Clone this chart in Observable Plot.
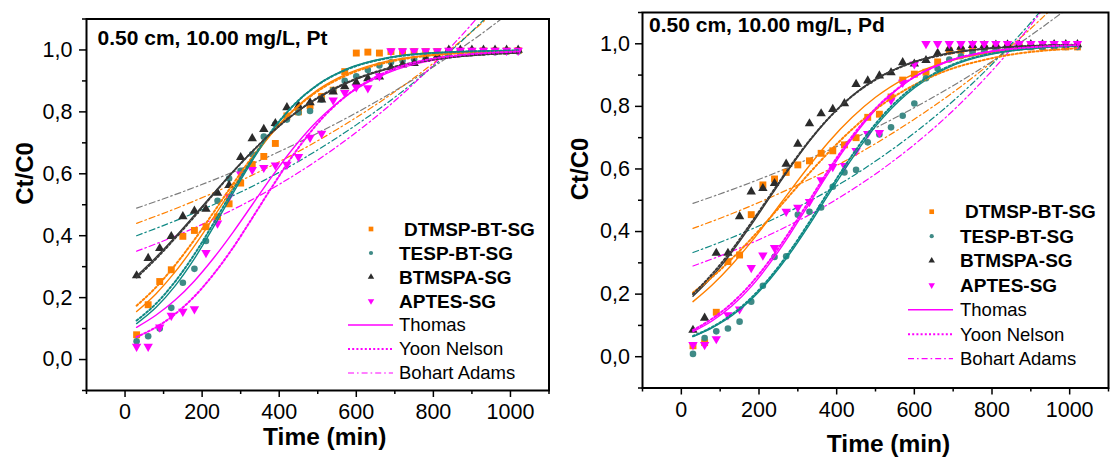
<!DOCTYPE html>
<html><head><meta charset="utf-8">
<script src="https://cdn.jsdelivr.net/npm/d3@7"></script>
<script src="https://cdn.jsdelivr.net/npm/@observablehq/plot@0.6"></script>
<style>
body{margin:0;background:#fff;}
#wrap{position:relative;width:1113px;height:466px;background:#fff;overflow:hidden;}
#wrap svg{position:absolute;top:0;overflow:visible;}
</style></head><body><div id="wrap"></div>
<script>
// ---------------- data ----------------
const times = [30,60,90,120,150,180,210,240,270,300,330,360,390,420,450,480,510,540,570,600,630,660,690,720,750,780,810,840,870,900,930,960,990,1020];
const seriesNames = ["DTMSP-BT-SG","TESP-BT-SG","BTMSPA-SG","APTES-SG"];
const modelNames = ["Thomas","Yoon Nelson","Bohart Adams"];
const xMajorTicks = [0,200,400,600,800,1000];
const xMinorTicks = [-100,100,300,500,700,900,1100];
const yMajorTicks = [0,0.2,0.4,0.6,0.8,1.0];
const yMinorTicks = [-0.1,0.1,0.3,0.5,0.7,0.9,1.1];

// Pt panel, measured points
const ptDTMSP  = [0.080,0.177,0.252,0.290,0.398,0.417,0.429,0.461,0.503,0.570,0.630,0.656,0.698,0.787,0.800,0.820,0.850,0.870,0.930,0.990,0.993,0.990,0.995,0.995,0.995,0.995,0.995,0.996,0.996,0.996,0.997,0.997,0.997,0.998];
const ptTESP   = [0.059,0.075,0.100,0.167,0.248,0.293,0.383,0.513,0.585,0.610,0.663,0.720,0.760,0.775,0.798,0.803,0.840,0.870,0.900,0.915,0.935,0.950,0.960,0.965,0.970,0.975,0.980,0.985,0.990,0.990,0.992,0.993,0.994,0.995];
const ptBTMSPA = [0.271,0.327,0.359,0.398,0.462,0.480,0.486,0.538,0.563,0.653,0.714,0.744,0.763,0.814,0.820,0.830,0.839,0.865,0.882,0.895,0.908,0.913,0.943,0.952,0.957,0.970,0.980,1.000,1.000,1.000,1.000,1.000,1.000,1.000];
const ptAPTES  = [0.042,0.042,0.104,0.142,0.155,0.163,0.345,0.440,0.526,0.599,0.613,0.620,0.628,0.630,0.655,0.717,0.730,0.838,0.862,0.880,0.877,0.916,0.997,0.997,0.997,0.997,0.997,0.998,0.998,0.998,0.998,0.998,0.998,0.998];
// Pd panel, measured points
const pdDTMSP  = [0.035,0.045,0.142,0.304,0.325,0.454,0.549,0.568,0.589,0.613,0.626,0.650,0.658,0.677,0.700,0.765,0.775,0.830,0.884,0.903,0.909,0.942,0.977,0.979,0.983,0.985,0.987,0.988,0.990,0.990,0.990,0.990,0.990,0.990];
const pdTESP   = [0.009,0.060,0.081,0.090,0.112,0.176,0.227,0.319,0.321,0.454,0.463,0.477,0.543,0.589,0.597,0.685,0.710,0.733,0.770,0.809,0.890,0.920,0.950,0.960,0.970,0.975,0.980,0.985,0.990,0.990,0.990,0.990,0.990,0.990];
const pdBTMSPA = [0.085,0.124,0.331,0.331,0.448,0.527,0.538,0.554,0.616,0.680,0.745,0.777,0.791,0.809,0.871,0.882,0.898,0.908,0.940,0.936,0.947,0.970,0.985,0.990,0.995,0.995,0.996,0.997,0.997,0.998,0.998,0.998,0.998,0.998];
const pdAPTES  = [0.038,0.038,0.057,0.133,0.152,0.284,0.324,0.348,0.464,0.477,0.495,0.565,0.607,0.610,0.658,0.713,0.716,0.820,0.876,0.935,1.000,1.000,1.000,1.000,1.000,1.000,1.000,1.000,1.000,1.000,1.000,1.000,1.000,1.000];

// fitted curves
const fitTimes = [30,80,130,180,230,280,330,380,440,500,580,680,800,1020];
const baTimes = [30,150,300,450,600,750,900,1020];

const ptThomasDTMSP  = [0.155,0.212,0.283,0.367,0.460,0.555,0.647,0.729,0.810,0.871,0.925,0.964,0.985,0.997];
const ptYoonDTMSP    = [0.174,0.233,0.305,0.387,0.476,0.567,0.654,0.731,0.808,0.867,0.921,0.960,0.983,0.997];
const ptThomasTESP   = [0.116,0.168,0.238,0.326,0.429,0.537,0.642,0.736,0.825,0.888,0.941,0.975,0.991,0.999];
const ptYoonTESP     = [0.126,0.180,0.252,0.340,0.441,0.547,0.648,0.738,0.825,0.887,0.939,0.973,0.990,0.998];
const ptThomasBTMSPA = [0.270,0.330,0.396,0.466,0.537,0.607,0.672,0.732,0.794,0.844,0.895,0.938,0.968,0.991];
const ptYoonBTMSPA   = [0.265,0.325,0.392,0.462,0.535,0.606,0.672,0.733,0.795,0.846,0.897,0.940,0.969,0.991];
const ptThomasAPTES  = [0.104,0.143,0.192,0.254,0.328,0.411,0.500,0.589,0.688,0.772,0.857,0.925,0.967,0.993];
const ptYoonAPTES    = [0.073,0.104,0.147,0.204,0.276,0.361,0.457,0.555,0.667,0.763,0.858,0.930,0.972,0.995];
const ptBohartDTMSP  = [0.440,0.497,0.578,0.672,0.782,0.910,1.059,1.196];
const ptBohartTESP   = [0.400,0.458,0.541,0.640,0.758,0.896,1.060,1.213];
const ptBohartBTMSPA = [0.489,0.542,0.616,0.701,0.797,0.906,1.030,1.142];
const ptBohartAPTES  = [0.350,0.409,0.497,0.604,0.734,0.892,1.084,1.267];

const pdThomasDTMSP  = [0.176,0.230,0.294,0.367,0.447,0.530,0.611,0.687,0.765,0.829,0.892,0.941,0.973,0.994];
const pdYoonDTMSP    = [0.205,0.255,0.313,0.377,0.446,0.517,0.587,0.654,0.727,0.790,0.855,0.913,0.954,0.986];
const pdThomasTESP   = [0.064,0.093,0.131,0.183,0.250,0.330,0.422,0.520,0.634,0.736,0.839,0.920,0.967,0.994];
const pdYoonTESP     = [0.066,0.095,0.135,0.188,0.256,0.338,0.431,0.530,0.644,0.744,0.845,0.923,0.969,0.994];
const pdThomasBTMSPA = [0.193,0.257,0.334,0.421,0.513,0.604,0.689,0.763,0.834,0.887,0.934,0.968,0.986,0.997];
const pdYoonBTMSPA   = [0.200,0.265,0.341,0.428,0.518,0.608,0.691,0.763,0.833,0.885,0.933,0.966,0.986,0.997];
const pdThomasAPTES  = [0.080,0.115,0.162,0.224,0.302,0.392,0.490,0.589,0.698,0.789,0.877,0.941,0.976,0.996];
const pdYoonAPTES    = [0.085,0.122,0.171,0.234,0.312,0.402,0.500,0.598,0.705,0.793,0.878,0.941,0.976,0.996];
const pdBohartDTMSP  = [0.410,0.467,0.549,0.645,0.759,0.892,1.049,1.194];
const pdBohartTESP   = [0.333,0.391,0.478,0.584,0.715,0.874,1.068,1.254];
const pdBohartBTMSPA = [0.490,0.543,0.617,0.701,0.796,0.904,1.027,1.137];
const pdBohartAPTES  = [0.290,0.347,0.434,0.542,0.678,0.848,1.060,1.268];

// ---------------- styles ----------------
const FONT = "'Liberation Sans', Arial, Helvetica, sans-serif";
const TICK_FONT = 21.5;
const symbolFill   = ["#ff8000","#3f8a86","#2b2b2b","#ff00ff"];
const thomasStroke = ["#ff8000","#0f8984","#3a3a3a","#ff00ff"];
const bohartStroke = ["#ff8000","#0f8984","#7c7c7c","#ff00ff"];
const triangleDown = {
  draw(ctx, size) {
    const y = -Math.sqrt(size / (Math.sqrt(3) * 3));
    ctx.moveTo(0, -y * 2);
    ctx.lineTo(-Math.sqrt(3) * y, y);
    ctx.lineTo(Math.sqrt(3) * y, y);
    ctx.closePath();
  }
};
const plotSymbols = ["square","circle","triangle",triangleDown];
const dotR = [3.9,3.3,3.5,3.5];
const legendSymbols = [d3.symbolSquare, d3.symbolCircle, d3.symbolTriangle, triangleDown];
const legendSizes = [22,14,18,18];
const DASHDOT = "6,3,1.6,3";
const DOTTED = "2,2.2";

function rows(xs, ys) { return xs.map((t, j) => ({t, v: ys[j]})); }

function drawPanel(cfg) {
  const marks = [];
  cfg.bohart.forEach((vals, i) => marks.push(Plot.line(rows(baTimes, vals),
    {x: "t", y: "v", stroke: bohartStroke[i], strokeWidth: 1.2, strokeDasharray: DASHDOT, curve: "natural", clip: true})));
  cfg.points.forEach((vals, i) => marks.push(Plot.dot(rows(times, vals),
    {x: "t", y: "v", symbol: plotSymbols[i], r: dotR[i], fill: symbolFill[i], stroke: "none"})));
  cfg.thomas.forEach((vals, i) => marks.push(Plot.line(rows(fitTimes, vals),
    {x: "t", y: "v", stroke: thomasStroke[i], strokeWidth: 1.4, curve: "monotone-x", clip: true})));
  cfg.yoon.forEach((vals, i) => marks.push(Plot.line(rows(fitTimes, vals),
    {x: "t", y: "v", stroke: thomasStroke[i], strokeWidth: 2, strokeDasharray: DOTTED, curve: "monotone-x", clip: true})));

  marks.push(
    Plot.axisX({ticks: xMajorTicks, tickSize: 7, strokeWidth: 1.5, text: null, label: null}),
    Plot.axisX({ticks: xMinorTicks, tickSize: 4, strokeWidth: 1.5, text: null, label: null}),
    Plot.axisY({ticks: yMajorTicks, tickSize: 7, strokeWidth: 1.5, text: null, label: null}),
    Plot.axisY({ticks: yMinorTicks, tickSize: 4, strokeWidth: 1.5, text: null, label: null}),
    Plot.text(xMajorTicks, {x: d => d, text: d => String(d), frameAnchor: "bottom", lineAnchor: "middle",
      dy: 22, fontSize: TICK_FONT, fill: "black"}),
    Plot.text(yMajorTicks, {y: d => d, text: d => d.toFixed(1).replace(".", ","), frameAnchor: "left",
      textAnchor: "end", lineAnchor: "middle", dx: cfg.yTickDx, fontSize: TICK_FONT, fill: "black"}),
    Plot.frame({stroke: "black", strokeWidth: 2}),
    Plot.text([cfg.title], {text: d => d, frameAnchor: "top-left", textAnchor: "start", lineAnchor: "middle",
      dx: cfg.titleDx, dy: cfg.titleDy, fontWeight: "bold", fontSize: 21, fill: "black"}),
    Plot.text(["Time (min)"], {text: d => d, frameAnchor: "bottom", lineAnchor: "middle",
      dx: cfg.xLabelDx, dy: cfg.xLabelDy, fontWeight: "bold", fontSize: 24.5, fill: "black"}),
    Plot.text(["Ct/C0"], {text: d => d, frameAnchor: "left", rotate: -90, lineAnchor: "middle",
      dx: cfg.yLabelDx, fontWeight: "bold", fontSize: 24, fill: "black"})
  );

  const svg = Plot.plot({
    width: cfg.width, height: 466,
    marginLeft: cfg.ml, marginRight: cfg.mr, marginTop: cfg.mt, marginBottom: 466 - cfg.frameBottom,
    x: {domain: [-100, 1100]},
    y: {domain: [-0.1, 1.1]},
    style: {fontFamily: FONT, fontSize: TICK_FONT + "px", color: "black", background: "white", overflow: "visible"},
    marks
  });
  svg.style.left = cfg.left + "px";

  // legend
  const g = d3.select(svg).append("g").attr("font-family", FONT).attr("fill", "black")
    .attr("text-anchor", "start").style("text-anchor", "start");
  seriesNames.forEach((name, i) => {
    const y = cfg.lg.y0 + i * cfg.lg.dy;
    g.append("path").attr("d", d3.symbol(legendSymbols[i], legendSizes[i])())
      .attr("transform", `translate(${cfg.lg.symX},${y})`).attr("fill", symbolFill[i]);
    g.append("text").attr("x", cfg.lg.textX + (i === 0 ? 5 : 0)).attr("y", y).attr("dy", "0.35em")
      .attr("font-weight", "bold").style("font-size", "19px").text(name);
  });
  const dashes = [null, DOTTED, DASHDOT];
  const widths = [1.5, 2, 1.2];
  modelNames.forEach((name, k) => {
    const y = cfg.lg.y0 + (4 + k) * cfg.lg.dy;
    const ln = g.append("line").attr("x1", cfg.lg.lineX1).attr("x2", cfg.lg.lineX2).attr("y1", y).attr("y2", y)
      .attr("stroke", "#ff00ff").attr("stroke-width", widths[k]);
    if (dashes[k]) ln.attr("stroke-dasharray", dashes[k]);
    g.append("text").attr("x", cfg.lg.textX).attr("y", y).attr("dy", "0.35em")
      .style("font-size", "18.5px").text(name);
  });
  document.getElementById("wrap").appendChild(svg);
}

drawPanel({
  left: 0, width: 560, ml: 86, mr: 11.5, mt: 18.5, frameBottom: 390,
  title: "0.50 cm, 10.00 mg/L, Pt", titleDx: 11, titleDy: 19,
  xLabelDx: 7, xLabelDy: 47, yLabelDx: -61, yTickDx: -14,
  points: [ptDTMSP, ptTESP, ptBTMSPA, ptAPTES],
  thomas: [ptThomasDTMSP, ptThomasTESP, ptThomasBTMSPA, ptThomasAPTES],
  yoon: [ptYoonDTMSP, ptYoonTESP, ptYoonBTMSPA, ptYoonAPTES],
  bohart: [ptBohartDTMSP, ptBohartTESP, ptBohartBTMSPA, ptBohartAPTES],
  lg: {symX: 371, textX: 399, y0: 229, dy: 24, lineX1: 348, lineX2: 393}
});
drawPanel({
  left: 560, width: 553, ml: 82, mr: 5, mt: 12, frameBottom: 387.5,
  title: "0.50 cm, 10.00 mg/L, Pd", titleDx: 6.5, titleDy: 13,
  xLabelDx: 13, xLabelDy: 56, yLabelDx: -62.5, yTickDx: -12.5,
  points: [pdDTMSP, pdTESP, pdBTMSPA, pdAPTES],
  thomas: [pdThomasDTMSP, pdThomasTESP, pdThomasBTMSPA, pdThomasAPTES],
  yoon: [pdYoonDTMSP, pdYoonTESP, pdYoonBTMSPA, pdYoonAPTES],
  bohart: [pdBohartDTMSP, pdBohartTESP, pdBohartBTMSPA, pdBohartAPTES],
  lg: {symX: 371.7, textX: 400, y0: 211.7, dy: 24.5, lineX1: 348, lineX2: 393}
});
</script></body></html>
